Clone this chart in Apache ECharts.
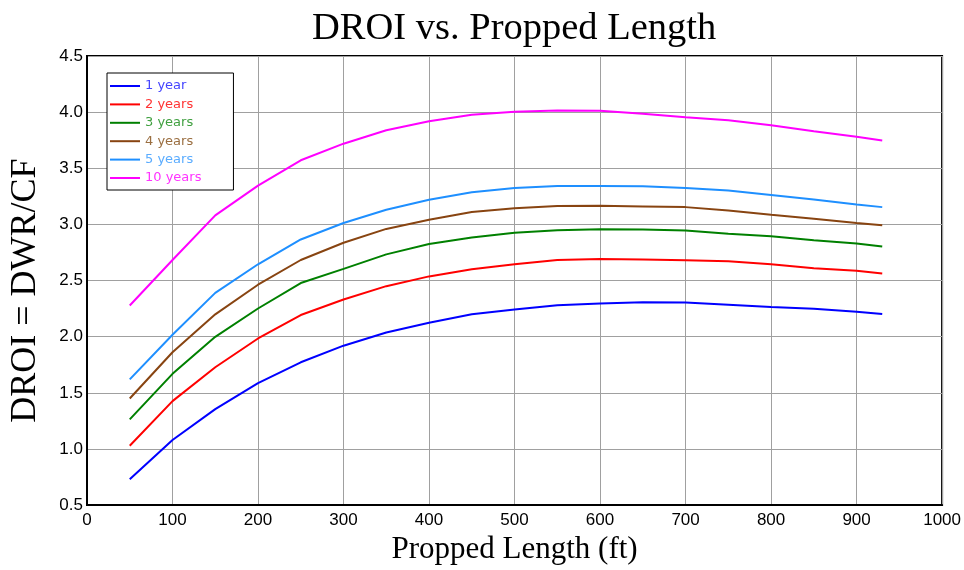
<!DOCTYPE html>
<html>
<head>
<meta charset="utf-8">
<script src="https://cdn.jsdelivr.net/npm/echarts@6/dist/echarts.min.js"></script>
<style>html,body{margin:0;padding:0;background:#fff}#c{width:964px;height:570px}</style>
</head>
<body>
<div id="c"></div>
<script>
var lengths = [50,100,150,200,250,300,350,400,450,500,550,600,650,700,750,800,850,900,930];
var year1  = [0.73,1.08,1.355,1.587,1.772,1.92,2.037,2.125,2.199,2.243,2.281,2.295,2.307,2.305,2.285,2.265,2.248,2.222,2.202];
var year2  = [1.029,1.426,1.728,1.984,2.193,2.331,2.45,2.537,2.601,2.645,2.684,2.692,2.688,2.681,2.672,2.645,2.61,2.587,2.563];
var year3  = [1.264,1.669,1.999,2.251,2.478,2.604,2.733,2.825,2.884,2.925,2.948,2.957,2.954,2.945,2.916,2.895,2.86,2.831,2.804];
var year4  = [1.449,1.861,2.199,2.463,2.683,2.837,2.96,3.042,3.11,3.145,3.163,3.166,3.16,3.154,3.124,3.086,3.051,3.013,2.992];
var year5  = [1.62,2.017,2.39,2.645,2.866,3.013,3.13,3.219,3.287,3.325,3.342,3.342,3.339,3.325,3.301,3.263,3.221,3.177,3.154];
var year10 = [2.278,2.683,3.08,3.345,3.571,3.719,3.839,3.918,3.977,4.004,4.015,4.012,3.986,3.955,3.927,3.883,3.83,3.78,3.748];
var seriesNames = ['1 year','2 years','3 years','4 years','5 years','10 years'];
var xTicks = {min:0, max:1000, interval:100};
var yTicks = {min:0.5, max:4.5, interval:0.5};

var allData = [year1, year2, year3, year4, year5, year10];
var lineColors = ['#0000ff','#ff0000','#008000','#884411','#1e8fff','#ff00ff'];
var textColors = ['#4444ff','#ff3333','#40a040','#9a6e40','#5aacff','#ff33ff'];

function pairs(ys){ return ys.map(function(v,i){ return [lengths[i], v]; }); }

var chart = echarts.init(document.getElementById('c'));
chart.setOption({
  animation: false,
  backgroundColor: '#ffffff',
  title: {
    text: 'DROI vs. Propped Length',
    left: 312, top: 9, padding: 0,
    textStyle: {fontFamily: 'Liberation Serif', fontSize: 38.5, fontWeight: 'normal', color: '#000'}
  },
  grid: {left: 86, right: 21, top: 56, bottom: 61, show: true, borderColor: '#000', borderWidth: 2, backgroundColor: 'transparent'},
  legend: {
    orient: 'vertical', left: 107, top: 73,
    backgroundColor: '#fff', borderColor: '#000', borderWidth: 1,
    padding: [6, 32, 5, 3],
    itemWidth: 30, itemHeight: 2, itemGap: 4.4,
    icon: 'path://M0,0L30,0L30,2L0,2Z',
    data: seriesNames.map(function(n,i){ return {name: n, textStyle: {color: textColors[i]}}; }),
    textStyle: {fontFamily: 'DejaVu Sans', fontSize: 13, lineHeight: 14, padding: [0,0,0,0]}
  },
  xAxis: {
    type: 'value', min: xTicks.min, max: xTicks.max, interval: xTicks.interval,
    name: 'Propped Length (ft)', nameLocation: 'middle', nameGap: 28,
    nameTextStyle: {fontFamily: 'Liberation Serif', fontSize: 31, color: '#000'},
    axisLine: {show: true, lineStyle: {color: '#000', width: 2}},
    axisTick: {show: false},
    axisLabel: {fontFamily: 'Liberation Sans', fontSize: 17, color: '#000', margin: 7,
      formatter: function(v){ return String(v); }},
    splitLine: {show: true, lineStyle: {color: '#a0a0a0', width: 1}}
  },
  yAxis: {
    type: 'value', min: yTicks.min, max: yTicks.max, interval: yTicks.interval,
    name: 'DROI = DWR/CF', nameLocation: 'middle', nameGap: 43,
    nameTextStyle: {fontFamily: 'Liberation Serif', fontSize: 36, color: '#000', padding: [0, 20, 0, 0]},
    axisLine: {show: true, lineStyle: {color: '#000', width: 2}},
    axisTick: {show: false},
    axisLabel: {fontFamily: 'Liberation Sans', fontSize: 17, color: '#000', margin: 4, padding: [0,0,15,0],
      formatter: function(v){ return v.toFixed(1); }},
    splitLine: {show: true, lineStyle: {color: '#a0a0a0', width: 1}}
  },
  series: allData.map(function(d,i){
    return {
      name: seriesNames[i], type: 'line', data: pairs(d),
      symbol: 'none', smooth: false,
      lineStyle: {color: lineColors[i], width: 2},
      itemStyle: {color: lineColors[i]}
    };
  })
});
</script>
</body>
</html>
